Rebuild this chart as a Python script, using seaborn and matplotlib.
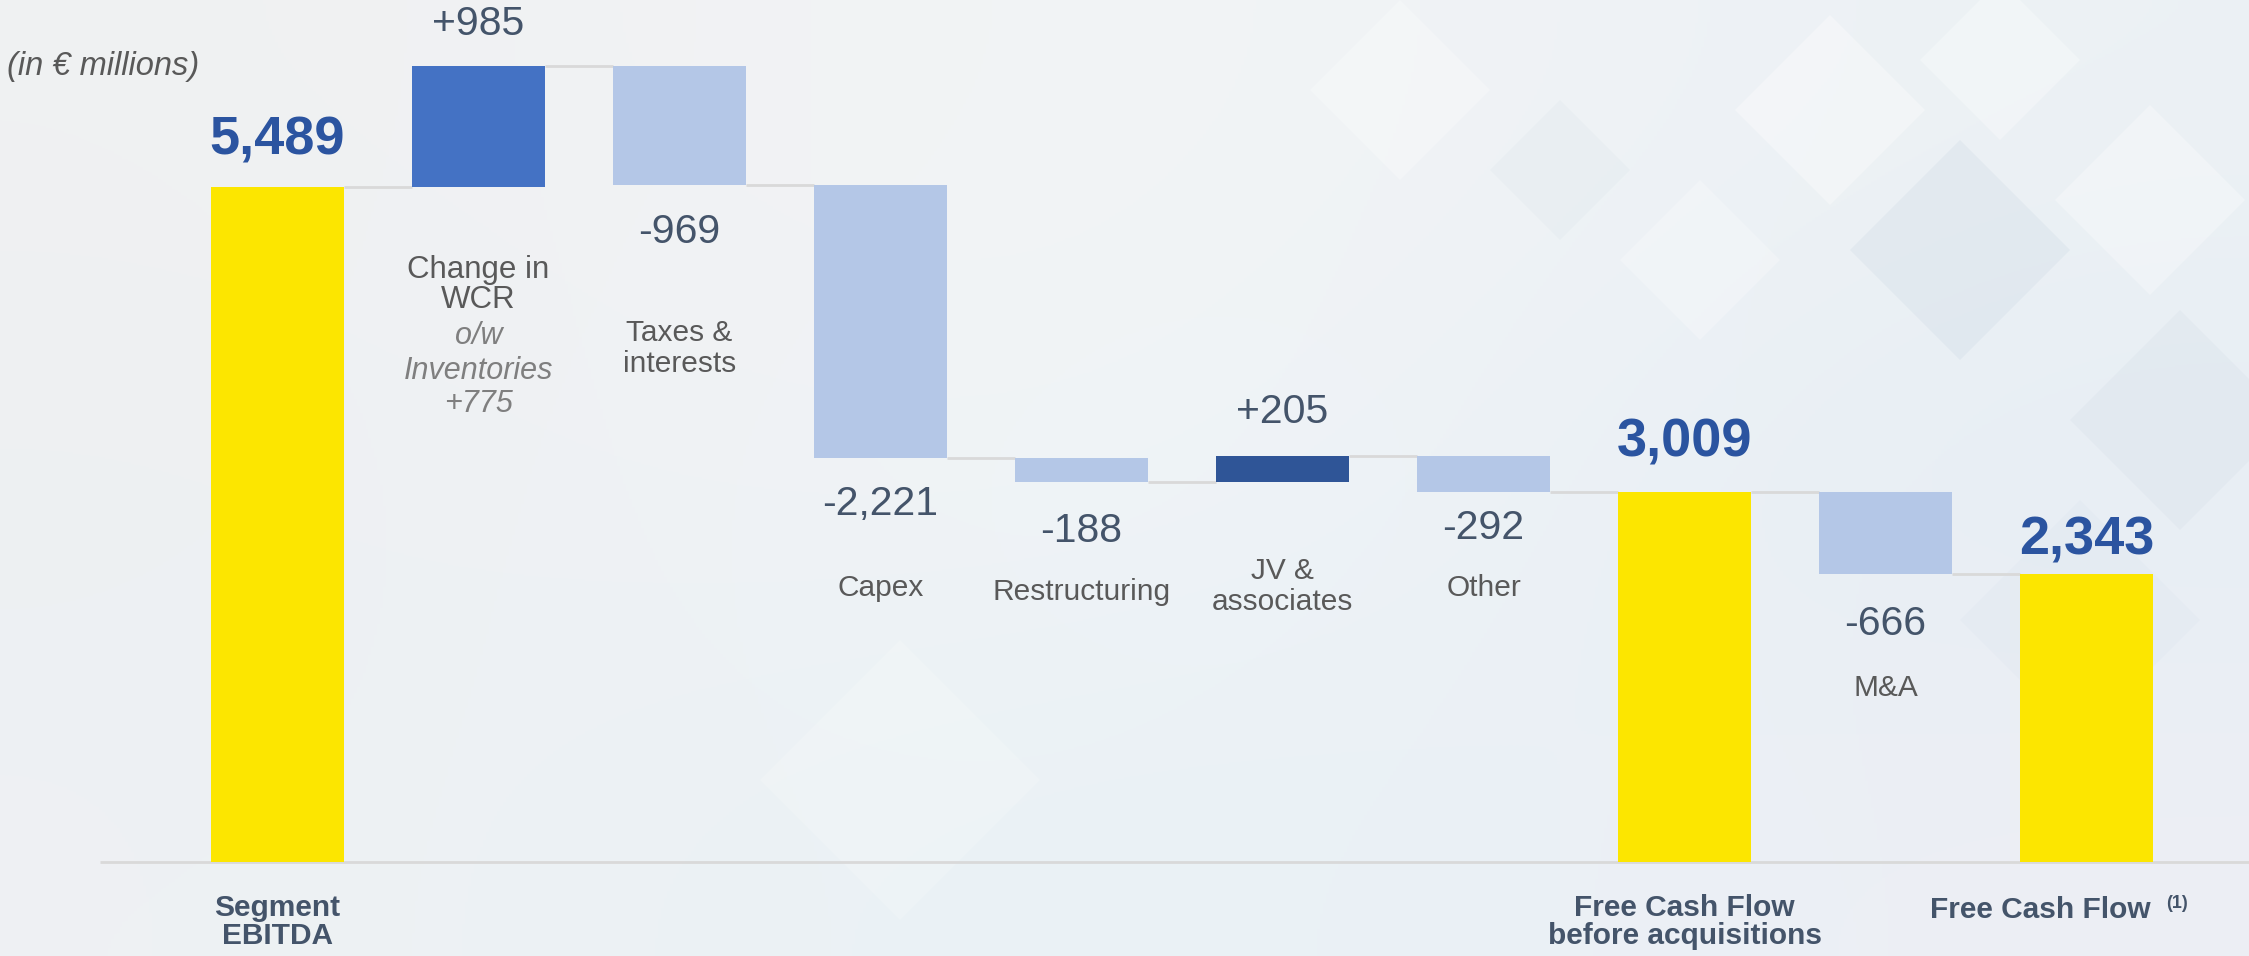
import numpy as np
import matplotlib
matplotlib.use("Agg")
import matplotlib.pyplot as plt
import matplotlib.patches as mpatches
import pandas as pd
import seaborn as sns

# waterfall data (in EUR millions)
steps = ["Segment EBITDA", "Change in WCR", "Taxes & interests", "Capex", "Restructuring",
         "JV & associates", "Other", "FCF before acquisitions", "M&A", "FCF"]
values = [5489, 985, -969, -2221, -188, 205, -292, 3009, -666, 2343]
is_total = [True, False, False, False, False, False, False, True, False, True]
value_labels = ["5,489", "+985", "-969", "-2,221", "-188", "+205", "-292", "3,009", "-666", "2,343"]
step_labels = ["", "", "Taxes &\ninterests", "Capex", "Restructuring", "JV &\nassociates", "Other", "", "M&A", ""]
wcr_lines = ["Change in", "WCR", "o/w", "Inventories", "+775"]
bottom_labels = ["Segment\nEBITDA", "", "", "", "", "", "", "Free Cash Flow\nbefore acquisitions", "", ""]

colors = ["#FCE600", "#4472C4", "#B4C7E7", "#B4C7E7", "#B4C7E7",
          "#2F5597", "#B4C7E7", "#FCE600", "#B4C7E7", "#FCE600"]
label_gap = [47, 42, -47, -46, -49, 44, -36, 50, -50, 34]
name_gap = [0, 0, -163, -130, -110, -105, -96, 0, -114, 0]

VALUE_C = "#44546A"
NAME_C = "#595959"
TOTAL_C = "#2B54A0"
LINE_C = "#D9D9D9"

# running totals -> bar bottoms / heights
run = 0
bottoms, heights, ends = [], [], []
for v, tot in zip(values, is_total):
    if tot:
        bottoms.append(0)
        heights.append(v)
        run = v
    else:
        new = run + v
        bottoms.append(min(run, new))
        heights.append(abs(v))
        run = new
    ends.append(run)

df = pd.DataFrame({"step": steps, "height": heights})

sns.set_style("white")
plt.rcParams["font.family"] = ["Liberation Sans", "DejaVu Sans"]

fig = plt.figure(figsize=(22.49, 9.56), dpi=100)

# soft slide background
bg = fig.add_axes([0, 0, 1, 1], zorder=0)
grid = np.array([
    [[0.94, 0.945, 0.95], [0.955, 0.96, 0.965], [0.925, 0.945, 0.96]],
    [[0.93, 0.94, 0.95], [0.95, 0.965, 0.975], [0.90, 0.93, 0.955]],
    [[0.935, 0.945, 0.955], [0.91, 0.95, 0.965], [0.93, 0.935, 0.96]],
])
bg.imshow(grid, extent=[0, 2249, 956, 0], interpolation="bicubic", aspect="auto")
diamonds = [(1830, 110, 95, "white", 0.35), (2000, 60, 80, "white", 0.30),
            (1960, 250, 110, "#c9d6e3", 0.25), (2150, 200, 95, "white", 0.30),
            (1700, 260, 80, "white", 0.25), (2180, 420, 110, "#d3dde8", 0.25),
            (1400, 90, 90, "white", 0.25), (1560, 170, 70, "#d6e0ea", 0.2),
            (900, 780, 140, "white", 0.18), (2080, 620, 120, "#d8e2ec", 0.2)]
for cx, cy, r, c, a in diamonds:
    bg.add_patch(mpatches.Polygon([(cx - r, cy), (cx, cy - r), (cx + r, cy), (cx, cy + r)],
                                  closed=True, facecolor=c, edgecolor="none", alpha=a))
bg.set_xlim(0, 2249)
bg.set_ylim(956, 0)
bg.axis("off")

ax = fig.add_axes([0, 0, 1, 1], zorder=1)
ax.patch.set_alpha(0)

sns.barplot(data=df, x="step", y="height", bottom=bottoms, width=0.66,
            color="#B4C7E7", saturation=1, linewidth=0, ax=ax, zorder=3)
for p, c in zip(ax.patches, colors):
    p.set_facecolor(c)
    p.set_edgecolor("none")

half = 0.33
for i in range(len(steps) - 1):
    ax.hlines(ends[i], i + half, i + 1 - half, color=LINE_C, lw=2, zorder=2)
ax.hlines(0, -0.883, 9.9, color=LINE_C, lw=2, zorder=2)

for i in range(len(steps)):
    top = bottoms[i] + heights[i]
    if is_total[i]:
        ax.annotate(value_labels[i], (i, top), xytext=(0, label_gap[i]), textcoords="offset pixels",
                    ha="center", va="center", fontsize=39, fontweight="bold", color=TOTAL_C)
    elif values[i] > 0:
        ax.annotate(value_labels[i], (i, top), xytext=(0, label_gap[i]), textcoords="offset pixels",
                    ha="center", va="center", fontsize=29.5, color=VALUE_C)
    else:
        ax.annotate(value_labels[i], (i, bottoms[i]), xytext=(0, label_gap[i]), textcoords="offset pixels",
                    ha="center", va="center", fontsize=29.5, color=VALUE_C)
    if step_labels[i]:
        ax.annotate(step_labels[i], (i, bottoms[i]), xytext=(0, name_gap[i]), textcoords="offset pixels",
                    ha="center", va="center", fontsize=21.5, color=NAME_C, linespacing=1.1)
    if bottom_labels[i]:
        ax.annotate(bottom_labels[i], (i, 0), xytext=(0, -60), textcoords="offset pixels",
                    ha="center", va="center", fontsize=21.5, fontweight="bold", color=VALUE_C,
                    linespacing=1.0)

# WCR note, mixed styles
wcr_off = [-83, -113, -149, -184, -217]
for k, (txt, off) in enumerate(zip(wcr_lines, wcr_off)):
    ax.annotate(txt, (1, bottoms[1]), xytext=(0, off), textcoords="offset pixels",
                ha="center", va="center", fontsize=22.5 if k < 2 else 22,
                color=NAME_C if k < 2 else "#7F7F7F", style="normal" if k < 2 else "italic")

ax.annotate("Free Cash Flow", (9, 0), xytext=(64, -48), textcoords="offset pixels",
            ha="right", va="center", fontsize=21.5, fontweight="bold", color=VALUE_C)
ax.annotate("(1)", (9, 0), xytext=(80, -42), textcoords="offset pixels",
            ha="left", va="center", fontsize=13, fontweight="bold", color=VALUE_C)

fig.text(7 / 2249, 1 - 66 / 956, "(in € millions)", ha="left", va="center",
         fontsize=23.5, style="italic", color=NAME_C)

ax.set_xlim(-1.381, 9.808)
ax.set_ylim(-765, 7014)
ax.axis("off")

fig.savefig("out.png", dpi=100)
